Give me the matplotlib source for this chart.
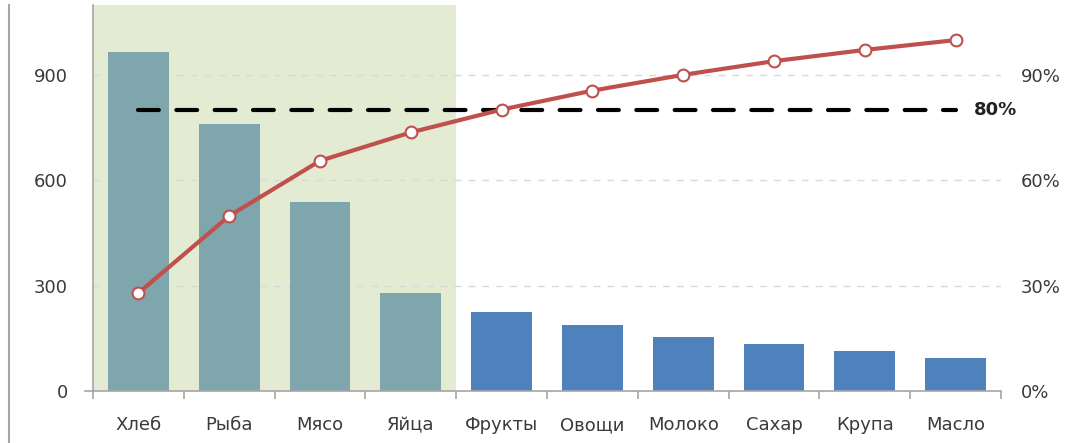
import matplotlib
matplotlib.use("Agg")
import matplotlib.pyplot as plt
from matplotlib.lines import Line2D
from matplotlib.ticker import FuncFormatter
import numpy as np

categories = ["Хлеб", "Рыба", "Мясо", "Яйца", "Фрукты", "Овощи", "Молоко", "Сахар", "Крупа", "Масло"]
values = [965, 760, 540, 280, 225, 188, 155, 133, 113, 95]
cum_pct = [0.279, 0.499, 0.656, 0.737, 0.802, 0.856, 0.901, 0.940, 0.972, 1.000]
threshold = 0.80
n_vital = 4
left_ticks = [0, 300, 600, 900]
right_ticks = [0.0, 0.3, 0.6, 0.9]

plt.rcParams['font.family'] = ['DejaVu Sans']
text_color = '#3a3a3a'
axis_color = '#a6a6a6'
fs = 13

fig = plt.figure(figsize=(10.75, 4.43), dpi=100)
ax = fig.add_axes([0.0865, 0.1174, 0.9312 - 0.0865, 0.9887 - 0.1174])
ax2 = ax.twinx()

x = np.arange(len(categories))
ax.set_xlim(-0.5, len(categories) - 0.5)
ax.set_ylim(0, 1100)
ax2.set_ylim(0, 1.1)

ax.axvspan(-0.5, n_vital - 0.5, color='#e3ebd3', zorder=0, lw=0)
for t in left_ticks[1:]:
    ax.axhline(t, color='#d9d9d9', lw=1, dashes=(5, 5), zorder=0.5)

colors = ['#80a6ad' if i < n_vital else '#4f81bd' for i in range(len(categories))]
ax.bar(x, values, width=0.67, color=colors, zorder=2)

ax2.plot([x[0], x[-1]], [threshold, threshold], color='black', lw=3,
         dashes=(5, 4.2), dash_capstyle='round', zorder=3)
ax2.text(x[-1] + 0.2, threshold, "80%", fontsize=fs, fontweight='bold',
         color='#222222', va='center', ha='left')
ax2.plot(x, cum_pct, color='#c0504d', lw=3, marker='o', markersize=8.5,
         markerfacecolor='white', markeredgecolor='#c0504d', markeredgewidth=1.5,
         solid_capstyle='round', zorder=4)

# axes styling
for s in ['top', 'right']:
    ax.spines[s].set_visible(False)
    ax2.spines[s].set_visible(False)
ax2.spines['left'].set_visible(False)
ax2.spines['bottom'].set_visible(False)
ax.spines['left'].set_color(axis_color)
ax.spines['bottom'].set_color(axis_color)
ax.spines['left'].set_linewidth(1.2)
ax.spines['bottom'].set_linewidth(1.2)

ax.set_yticks(left_ticks)
ax.tick_params(axis='y', length=0, pad=18, labelsize=fs, labelcolor=text_color)
ax2.set_yticks(right_ticks)
ax2.yaxis.set_major_formatter(FuncFormatter(lambda v, p: f"{v*100:.0f}%"))
ax2.tick_params(axis='y', length=0, pad=14, labelsize=fs, labelcolor=text_color)

ax.set_xticks(x)
ax.set_xticklabels(categories)
ax.set_xticks(np.arange(-0.5, len(categories)), minor=True)
ax.tick_params(axis='x', which='major', length=0, pad=18, labelsize=fs, labelcolor=text_color)
ax.tick_params(axis='x', which='minor', length=6, width=1.2, color=axis_color)

ax.set_zorder(1)
ax2.set_zorder(2)
ax.patch.set_visible(False)
ax2.patch.set_visible(False)

fig.add_artist(Line2D([9 / 1075, 9 / 1075], [0, 1 - 5 / 443], transform=fig.transFigure,
                      color=axis_color, lw=1.5))
fig.add_artist(Line2D([85 / 1075, 93 / 1075], [1 - 391 / 443, 1 - 391 / 443],
                      transform=fig.transFigure, color=axis_color, lw=1.2))

fig.savefig("out.png", dpi=100)
